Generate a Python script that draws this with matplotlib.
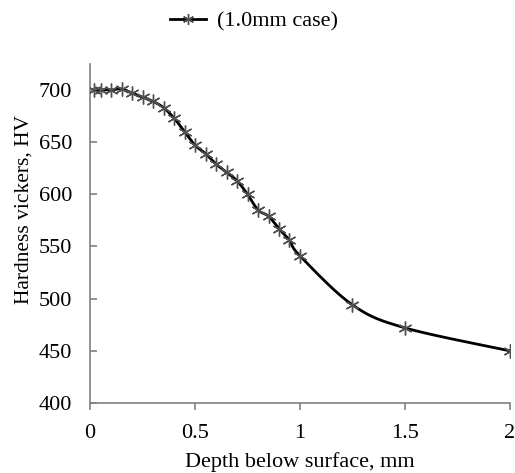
import matplotlib
matplotlib.use('Agg')
import numpy as np
import matplotlib.pyplot as plt

depth = [0.02, 0.05, 0.1, 0.15, 0.2, 0.25, 0.3, 0.35, 0.4, 0.45, 0.5, 0.55,
         0.6, 0.65, 0.7, 0.75, 0.8, 0.85, 0.9, 0.95, 1.0, 1.25, 1.5, 2.0]
hardness = [700, 700, 700, 701, 697, 693, 689, 683, 673, 660, 647, 639,
            629, 621, 613, 600, 585, 579, 567, 556, 541, 494, 472, 450]
label = '(1.0mm case)'


def smooth(x, y, n=20):
    # catmull-rom path through the points, like a spreadsheet smoothed line
    x = np.asarray(x, float)
    y = np.asarray(y, float)
    px = np.concatenate([[x[0]], x, [x[-1]]])
    py = np.concatenate([[y[0]], y, [y[-1]]])
    xs, ys = [], []
    t = np.linspace(0, 1, n)
    for i in range(1, len(px) - 2):
        for p, out in ((px, xs), (py, ys)):
            p0, p1, p2, p3 = p[i - 1], p[i], p[i + 1], p[i + 2]
            out.extend(0.5 * (2 * p1 + (-p0 + p2) * t
                              + (2 * p0 - 5 * p1 + 4 * p2 - p3) * t ** 2
                              + (-p0 + 3 * p1 - 3 * p2 + p3) * t ** 3))
    return xs, ys


plt.rcParams['font.family'] = ['Liberation Serif', 'DejaVu Serif']

fig = plt.figure(figsize=(5.15, 4.73), dpi=100)
ax = fig.add_axes([0.175, 0.148, 0.815, 0.717])

sx, sy = smooth(depth, hardness)
ax.plot(sx, sy, color='black', lw=2, zorder=2)
ax.plot(depth, hardness, ls='none', marker=(6, 2, 0), ms=10, mew=1,
        color='#505050', zorder=3)
# legend proxy
ax.plot([], [], color='black', lw=2, marker=(6, 2, 0), ms=8, mew=1,
        mec='#505050', label=label)

ax.set_xlim(0, 2)
ax.set_ylim(400, 725)
ax.set_xticks([0, 0.5, 1, 1.5, 2])
ax.set_xticklabels(['0', '0.5', '1', '1.5', '2'])
ax.set_yticks(range(400, 701, 50))

for s in ['top', 'right']:
    ax.spines[s].set_visible(False)
for s in ['left', 'bottom']:
    ax.spines[s].set_color('#808080')
    ax.spines[s].set_linewidth(1.2)
ax.tick_params(colors='#808080', labelcolor='black', labelsize=16,
               length=5, width=1.2)
ax.tick_params(axis='x', direction='out', pad=10)
ax.tick_params(axis='y', direction='in', pad=13)

ax.set_xlabel('Depth below surface, mm', fontsize=16, labelpad=7)
ax.set_ylabel('Hardness vickers, HV', fontsize=15.5)
ax.yaxis.set_label_coords(-0.135, 0.57)

ax.legend(loc='center', bbox_to_anchor=(0.39, 1.126), frameon=False,
          fontsize=16, handlelength=1.6, handletextpad=0.5)

fig.savefig('out.png')
